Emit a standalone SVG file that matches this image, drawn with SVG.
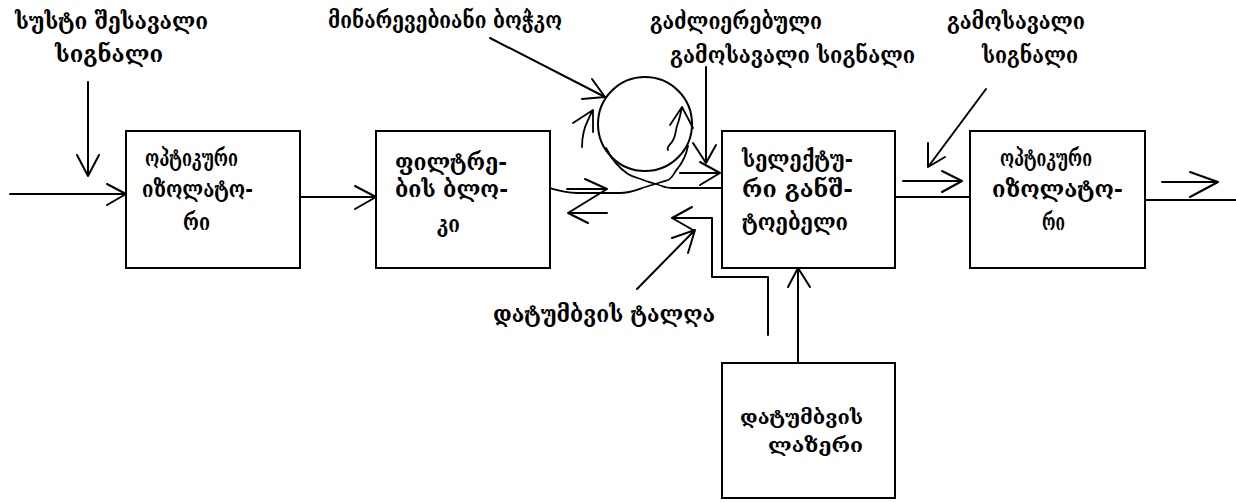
<svg xmlns="http://www.w3.org/2000/svg" width="1236" height="502" viewBox="0 0 1236 502">
<style>
.t{font-family:"DejaVu Serif","DejaVu Sans",serif;font-size:23px;font-weight:bold;fill:#000}
.s{font-size:20px}
.b{fill:#fff;stroke:#000;stroke-width:2}
.l{fill:none;stroke:#000;stroke-width:2;stroke-linecap:round;stroke-linejoin:round}
.w{fill:none;stroke:#000;stroke-width:1.8;stroke-linecap:round;stroke-linejoin:round}
</style>
<rect width="1236" height="502" fill="#fff"/>
<g id="connectors">
<path class="l" d="M10,194H126M107,184L126,194L107,205"/>
<path class="l" d="M88,82V176M77,155L88,176L99,155"/>
<path class="l" d="M300,197H376M355,186L376,197L355,209"/>
<path class="l" d="M567,189H607M585,179L607,189L568,213H607M568,213L588,223"/>
<path class="l" d="M490,38L605,97M592,79L605,97L582,99"/>
<path class="l" d="M706,67V163M693,143L706,163L716,145"/>
<path class="l" d="M680,173H720M700,162L720,173L700,185"/>
<path class="l" d="M672,188H722"/>
<path class="l" d="M692,207L672,218H712V277H768V335M672,218L693,230"/>
<path class="l" d="M637,289L695,230M672,238L695,230L688,253"/>
<path class="l" d="M798,363V268M788,287L798,268L810,287"/>
<path class="l" d="M895,197H970M903,181H962M942,171L962,181L942,192"/>
<path class="l" d="M986,89L928,167M928,143L928,167L945,157"/>
<path class="l" d="M1145,200H1236M1162,182H1218M1190,172L1218,182L1190,197"/>
</g>
<g id="fiber-coil">
<circle cx="645" cy="124" r="47" class="l"/>
<path class="w" d="M606,148C612,160 619,168 628,174C634,178 640,178 646,181C652,183 656,184 662,186C666,188 670,188 674,188"/>
<path class="w" d="M688,146C686,156 682,163 678,168C674,172 673,178 668,180C662,182 658,183 652,185C640,188 632,193 620,193L577,193C565,193 556,190 546,187"/>
<path class="w" d="M668,150C666,146 672,144 673,140C676,136 675,130 678,123C680,117 681,112 682,107M670,125L682,107L693,128"/>
<path class="w" d="M582,147C582,138 584,128 588,120C590,116 591,113 593,110M573,123L593,110L593,132"/>
</g>
<g id="n-isolator-in">
<rect class="b" x="126" y="131" width="174" height="137"/>
<text class="t" x="145" y="166" textLength="93" lengthAdjust="spacingAndGlyphs">ოპტიკური</text>
<text class="t" x="142" y="197" textLength="111" lengthAdjust="spacingAndGlyphs">იზოლატო-</text>
<text class="t" x="183" y="230" textLength="27" lengthAdjust="spacingAndGlyphs">რი</text>
</g>
<g id="n-filter">
<rect class="b" x="376" y="131" width="174" height="137"/>
<text class="t" x="395" y="170" textLength="112" lengthAdjust="spacingAndGlyphs">ფილტრე-</text>
<text class="t" x="395" y="197" textLength="113" lengthAdjust="spacingAndGlyphs">ბის ბლო-</text>
<text class="t" x="437" y="232" textLength="23" lengthAdjust="spacingAndGlyphs">კი</text>
</g>
<g id="n-splitter">
<rect class="b" x="722" y="131" width="173" height="137"/>
<text class="t" x="742" y="167" textLength="111" lengthAdjust="spacingAndGlyphs">სელექტუ-</text>
<text class="t" x="742" y="197" textLength="111" lengthAdjust="spacingAndGlyphs">რი განშ-</text>
<text class="t" x="742" y="230" textLength="106" lengthAdjust="spacingAndGlyphs">ტოებელი</text>
</g>
<g id="n-isolator-out">
<rect class="b" x="970" y="131" width="175" height="137"/>
<text class="t" x="1000" y="166" textLength="92" lengthAdjust="spacingAndGlyphs">ოპტიკური</text>
<text class="t" x="992" y="197" textLength="131" lengthAdjust="spacingAndGlyphs">იზოლატო-</text>
<text class="t" x="1042" y="230" textLength="23" lengthAdjust="spacingAndGlyphs">რი</text>
</g>
<g id="n-pump-laser">
<rect class="b" x="722" y="363" width="173" height="135"/>
<text class="t s" x="740" y="424" textLength="123" lengthAdjust="spacingAndGlyphs">დატუმბვის</text>
<text class="t s" x="768" y="452" textLength="95" lengthAdjust="spacingAndGlyphs">ლაზერი</text>
</g>
<g id="labels">
<text class="t" x="15" y="29" textLength="193" lengthAdjust="spacingAndGlyphs">სუსტი შესავალი</text>
<text class="t" x="55" y="62" textLength="108" lengthAdjust="spacingAndGlyphs">სიგნალი</text>
<text class="t" x="328" y="28" textLength="234" lengthAdjust="spacingAndGlyphs">მინარევებიანი ბოჭკო</text>
<text class="t" x="650" y="29" textLength="172" lengthAdjust="spacingAndGlyphs">გაძლიერებული</text>
<text class="t" x="670" y="63" textLength="245" lengthAdjust="spacingAndGlyphs">გამოსავალი სიგნალი</text>
<text class="t" x="947" y="29" textLength="138" lengthAdjust="spacingAndGlyphs">გამოსავალი</text>
<text class="t" x="982" y="63" textLength="96" lengthAdjust="spacingAndGlyphs">სიგნალი</text>
<text class="t" x="493" y="322" textLength="222" lengthAdjust="spacingAndGlyphs">დატუმბვის ტალღა</text>
</g>
</svg>
